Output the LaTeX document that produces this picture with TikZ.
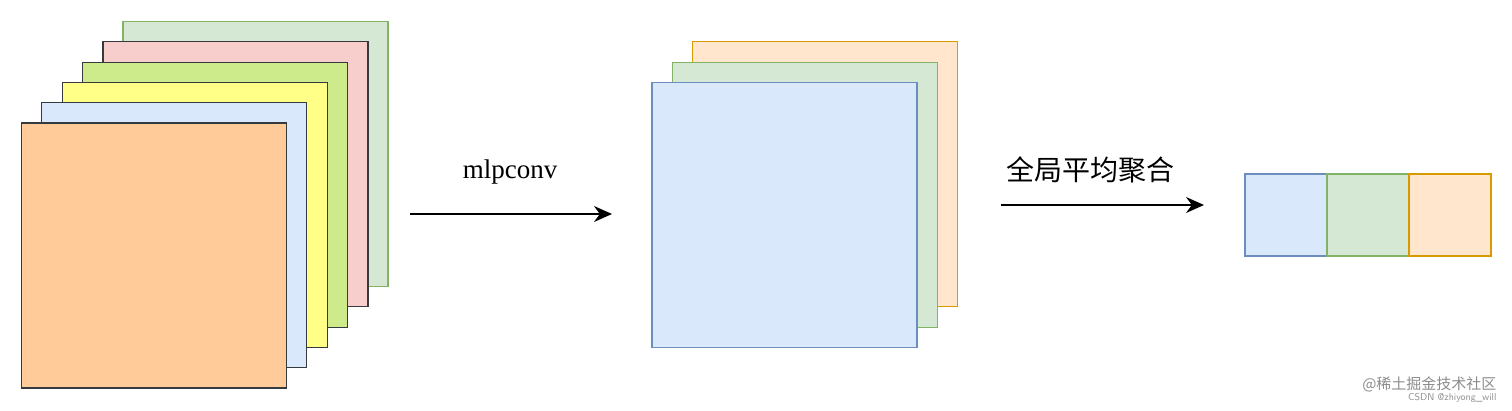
\documentclass[tikz,border=0pt]{standalone}
\usepackage{fontspec}
\setmainfont{Liberation Serif}
\newfontfamily\cjk{Noto Sans CJK SC}
\usetikzlibrary{arrows.meta}
\definecolor{cgreen}{HTML}{D5E8D4}
\definecolor{cdgreen}{HTML}{82B366}
\definecolor{cpink}{HTML}{F8CECC}
\definecolor{clime}{HTML}{CDEB8B}
\definecolor{cyellow}{HTML}{FFFF88}
\definecolor{cblue}{HTML}{DAE8FC}
\definecolor{cdblue}{HTML}{6C8EBF}
\definecolor{corange}{HTML}{FFCC99}
\definecolor{clorange}{HTML}{FFE6CC}
\definecolor{cdorange}{HTML}{D79B00}
\definecolor{cedge}{HTML}{36393D}
\tikzset{
  sq/.style={draw=cedge,line width=1.6pt,minimum size=265pt,inner sep=0pt,shape=rectangle},
  cell/.style={line width=1.6pt,minimum size=82pt,inner sep=0pt,shape=rectangle},
  arr/.style={line width=1.6pt,-{Stealth[length=18pt,width=16pt]}},
}
\begin{document}
\begin{tikzpicture}[x=1pt,y=-1pt]
			\useasboundingbox (0,0) rectangle (1512,410);
			%
			\node[sq,fill=cgreen,draw=cdgreen] (s6) at (255.5,154) {};
			\node[sq,fill=cpink] (s5) at (235.5,174) {};
			\node[sq,fill=clime] (s4) at (215,195) {};
			\node[sq,fill=cyellow] (s3) at (195,215) {};
			\node[sq,fill=cblue] (s2) at (174,235) {};
			\node[sq,fill=corange] (s1) at (154,255.5) {};
			%
			\node[sq,fill=clorange,draw=cdorange] (m3) at (825,174) {};
			\node[sq,fill=cgreen,draw=cdgreen] (m2) at (805,195) {};
			\node[sq,fill=cblue,draw=cdblue] (m1) at (784.5,215) {};
			%
			\node[cell,fill=cblue,draw=cdblue] (c1) at (1286,215) {};
			\node[cell,fill=cgreen,draw=cdgreen] (c2) at (1368,215) {};
			\node[cell,fill=clorange,draw=cdorange] (c3) at (1450,215) {};
			%
			\coordinate (a1s) at (410,214);
			\coordinate (a1e) at (612,214);
			\coordinate (a2s) at (1001,205);
			\coordinate (a2e) at (1204,205);
			\draw[arr] (a1s) -- (a1e);
			\draw[arr] (a2s) -- (a2e);
			%
			\node[font=\fontsize{27}{30}\selectfont] (l1) at (510,172) {mlpconv};
			\node[font=\cjk\fontsize{28}{31}\selectfont] (l2) at (1090,170) {全局平均聚合};
			%
			\node[font=\cjk\fontsize{15}{17}\selectfont,text=black!45,anchor=east] (w1) at (1500,384) {@稀土掘金技术社区};
			\node[font=\sffamily\fontsize{10}{12}\selectfont,text=black!45,anchor=east] (w2) at (1500,398) {CSDN @zhiyong\_will};
			%
		\end{tikzpicture}
\end{document}
